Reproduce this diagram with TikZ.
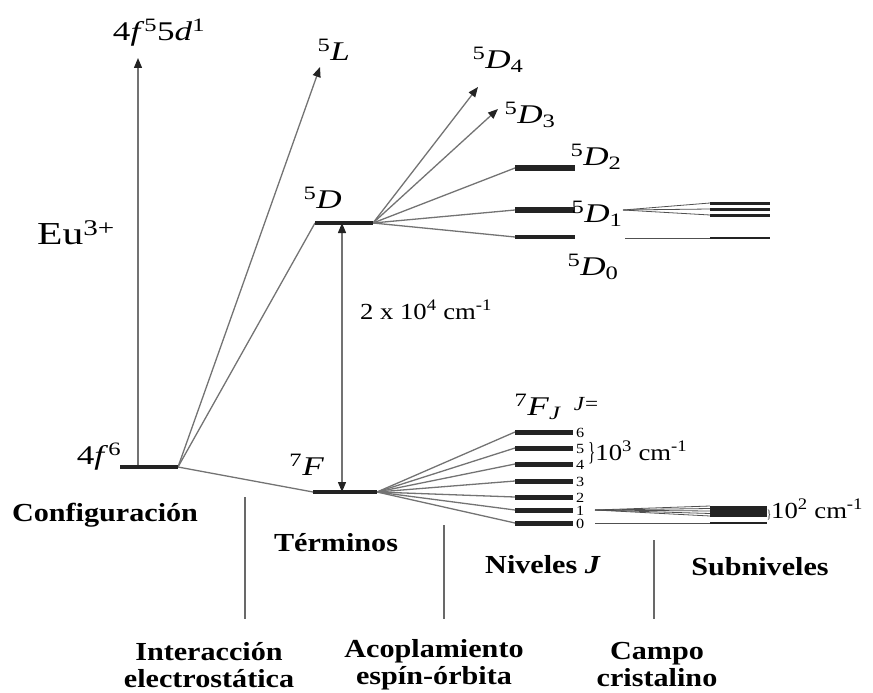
\documentclass[tikz,border=0pt]{standalone}
\usepackage{fontspec}
\setmainfont{Liberation Serif}[FakeStretch=1.16]
\newfontfamily\widefont{Liberation Serif}[FakeStretch=1.3]
\usepackage{tikz}
\usetikzlibrary{arrows.meta, positioning, calc}
\definecolor{linegray}{RGB}{115,115,115}
\definecolor{sepgray}{RGB}{105,105,105}
\definecolor{bardark}{RGB}{35,35,35}
\newcommand{\trm}[3]{\textsuperscript{#1}\textit{#2}\textsubscript{#3}}
\tikzset{
  lvl/.style={draw=bardark, line width=4pt},
  lvlbig/.style={draw=bardark, line width=6pt},
  sublvl/.style={draw=bardark, line width=3pt},
  conn/.style={draw=linegray, line width=1.3pt},
  fine/.style={draw=linegray!70!black, line width=0.8pt},
  arrow/.style={conn, -{Triangle[length=10pt, width=8pt, color=bardark]}},
  dblarrow/.style={conn, {Triangle[length=10pt, width=8pt, color=bardark]}-{Triangle[length=10pt, width=8pt, color=bardark]}},
  sep/.style={draw=sepgray, line width=2.4pt},
  term/.style={inner sep=0pt, font=\widefont\fontsize{27}{30}\selectfont},
  ion/.style={inner sep=0pt, font=\widefont\fontsize{32}{34}\selectfont},
  gaplbl/.style={inner sep=0pt, font=\fontsize{23}{26}\selectfont},
  jnum/.style={inner sep=0pt, font=\fontsize{14}{14}\selectfont},
  cat/.style={inner sep=0pt, align=center, font=\fontsize{26}{27}\selectfont\bfseries}
}
\begin{document}
\begin{tikzpicture}[x=1pt, y=-1pt]
  \useasboundingbox (0,0) rectangle (873,693);
  % level ends
  \coordinate (cfgA) at (120,467);  \coordinate (cfgB) at (178,467);
  \coordinate (dA) at (315,223);    \coordinate (dB) at (373,223);
  \coordinate (fA) at (313,492);    \coordinate (fB) at (377,492);
  \coordinate (d2A) at (515,168);   \coordinate (d2B) at (575,168);
  \coordinate (d1A) at (515,210);   \coordinate (d1B) at (575,210);
  \coordinate (d0A) at (515,237);   \coordinate (d0B) at (575,237);
  \foreach \j/\y in {0/523,1/510,2/497,3/481,4/464,5/448,6/432} {
    \coordinate (j\j A) at (515,\y); \coordinate (j\j B) at (573,\y);
  }
  \coordinate (excTip) at (138,58);  \coordinate (excFoot) at (138,467);
  \coordinate (lTip) at (320,67);
  \coordinate (d4Tip) at (478,87);   \coordinate (d3Tip) at (498,109);
  \coordinate (gapT) at (342,223);   \coordinate (gapB) at (342,492);

  % connectors
  \draw[arrow] (excFoot) -- (excTip);
  \draw[arrow] (cfgB) -- (lTip);
  \draw[conn] (cfgB) -- (dA);
  \draw[conn] (cfgB) -- (fA);
  \draw[arrow] (dB) -- (d4Tip);
  \draw[arrow] (dB) -- (d3Tip);
  \foreach \t in {d2,d1,d0} \draw[conn] (dB) -- (\t A);
  \foreach \j in {0,...,6} \draw[conn] (fB) -- (j\j A);
  \draw[dblarrow] (gapT) -- (gapB);

  % levels
  \draw[lvl] (cfgA) -- (cfgB);
  \draw[lvl] (dA) -- (dB);
  \draw[lvl] (fA) -- (fB);
  \draw[lvlbig] (d2A) -- (d2B);
  \draw[lvlbig] (d1A) -- (d1B);
  \draw[lvl] (d0A) -- (d0B);
  \foreach \j in {0,...,6} \draw[lvl, line width=5pt] (j\j A) -- (j\j B);

  % crystal field sublevels
  \coordinate (s1o) at (623,210);
  \foreach \k/\y in {1/203,2/209,3/215} {
    \coordinate (s1\k) at (710,\y);
    \draw[fine] (s1o) -- (s1\k);
    \draw[sublvl] (s1\k) -- ++(60,0);
  }
  \coordinate (s0o) at (625,238); \coordinate (s0m) at (710,238); \coordinate (s0e) at (770,238);
  \draw[fine] (s0o) -- (s0m);
  \draw[sublvl, line width=2.5pt] (s0m) -- (s0e);
  \coordinate (t1o) at (595,510);
  \foreach \k/\y in {1/506,2/508.5,3/511,4/513.5,5/516} {
    \coordinate (t1\k) at (710,\y);
    \draw[fine] (t1o) -- (t1\k);
  }
  \fill[bardark] (710,505.5) rectangle (767,517);
  \coordinate (t0o) at (595,523); \coordinate (t0m) at (710,523); \coordinate (t0e) at (767,523);
  \draw[fine] (t0o) -- (t0e);
  \draw[sublvl, line width=2pt] (t0m) -- (t0e);

  % separators
  \draw[sep] (245,497) -- (245,619);
  \draw[sep] (444,525) -- (444,619);
  \draw[sep] (654,540) -- (654,619);

  % labels
  \node[term] (exc) at (159,33) {4\textit{f}\textsuperscript{5}5\textit{d}\textsuperscript{1}};
  \node[ion] (eu) at (76,233) {Eu\textsuperscript{3+}};
  \node[term] (cfg) at (99,457) {4\textit{f}\textsuperscript{6}};
  \node[term] (tL) at (334,52) {\trm{5}{L}{}};
  \node[term] (tD) at (323,200) {\trm{5}{D}{}};
  \node[term] (tF) at (307,467) {\trm{7}{F}{}};
  \node[term] (tD4) at (498,60) {\trm{5}{D}{4}};
  \node[term] (tD3) at (530,115) {\trm{5}{D}{3}};
  \node[term] (tD2) at (596,157) {\trm{5}{D}{2}};
  \node[term] (tD1) at (597,214) {\trm{5}{D}{1}};
  \node[term] (tD0) at (593,267) {\trm{5}{D}{0}};
  \node[term] (tFJ) at (538,407) {\trm{7}{F}{\textit{J}}};
  \node[inner sep=0pt, font=\fontsize{20}{20}\selectfont] (jeq) at (586,404) {\textit{J}=};
  \foreach \j in {0,...,6}
    \node[jnum, anchor=west] (n\j) at ($(j\j B)+(3,1)$) {\j};
  \node[gaplbl] (gap) at (426,310) {2 x 10\textsuperscript{4} cm\textsuperscript{-1}};
  \node[gaplbl, anchor=west] (split3) at (588,452)
    {\scalebox{0.5}[1]{\fontsize{26}{26}\selectfont\}}10\textsuperscript{3} cm\textsuperscript{-1}};
  \node[gaplbl, anchor=west] (split2) at (767,509)
    {\scalebox{0.6}[1]{\fontsize{12}{12}\selectfont\}}10\textsuperscript{2} cm\textsuperscript{-1}};

  % stage headings
  \node[cat] (hCfg) at (105,515) {Configuración};
  \node[cat] (hTer) at (336,543) {Términos};
  \node[cat] (hNiv) at (543,565) {Niveles \textit{J}};
  \node[cat] (hSub) at (760,567) {Subniveles};
  \node[cat] (hInt) at (209,665) {Interacción\\electrostática};
  \node[cat] (hAco) at (434,665) {Acoplamiento\\espín-órbita};
  \node[cat] (hCam) at (657,665) {Campo\\cristalino};
\end{tikzpicture}
\end{document}
